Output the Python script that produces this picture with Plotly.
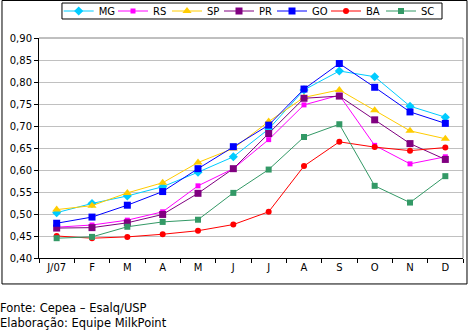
import plotly.graph_objects as go

months = ["J/07", "F", "M", "A", "M", "J", "J", "A", "S", "O", "N", "D"]

MG = [0.503, 0.524, 0.541, 0.562, 0.595, 0.630, 0.693, 0.782, 0.825, 0.812, 0.745, 0.720]
RS = [0.470, 0.475, 0.486, 0.505, 0.564, 0.603, 0.669, 0.748, 0.770, 0.656, 0.614, 0.630]
SP = [0.510, 0.519, 0.548, 0.571, 0.617, 0.649, 0.710, 0.765, 0.782, 0.736, 0.689, 0.671]
PR = [0.468, 0.469, 0.480, 0.499, 0.547, 0.603, 0.683, 0.763, 0.768, 0.714, 0.660, 0.624]
GO = [0.479, 0.493, 0.520, 0.551, 0.603, 0.653, 0.702, 0.784, 0.842, 0.788, 0.732, 0.706]
BA = [0.450, 0.445, 0.448, 0.454, 0.462, 0.476, 0.505, 0.609, 0.664, 0.652, 0.644, 0.651]
SC = [0.445, 0.448, 0.471, 0.482, 0.487, 0.548, 0.601, 0.675, 0.704, 0.564, 0.526, 0.586]

series = [
    ("MG", MG, "#00CCFF", "diamond", 7),
    ("RS", RS, "#FF00FF", "square", 5),
    ("SP", SP, "#FFCC00", "triangle-up", 8),
    ("PR", PR, "#800080", "square", 7),
    ("GO", GO, "#0000FF", "square", 7),
    ("BA", BA, "#FF0000", "circle", 6),
    ("SC", SC, "#339966", "square", 6),
]

footer_lines = ["Fonte: Cepea – Esalq/USP", "Elaboração: Equipe MilkPoint"]

# left edge (px) of each legend entry
legend_left_px = [58.7, 113, 167, 219, 272, 326, 381]
PLOT_L, PLOT_W = 39, 424

xs = list(range(len(months)))
fig = go.Figure()
font = "DejaVu Sans"
legend_layouts = {}
for i, (name, vals, color, sym, size) in enumerate(series):
    key = "legend" if i == 0 else f"legend{i+1}"
    fig.add_trace(go.Scatter(
        x=xs, y=vals, name=name, mode="lines+markers",
        line=dict(color=color, width=1),
        marker=dict(color=color, symbol=sym, size=size),
        legend=key,
    ))
    legend_layouts[key] = dict(
        orientation="h", yanchor="middle", y=1.1227, xanchor="left",
        x=(legend_left_px[i] - PLOT_L) / PLOT_W,
        borderwidth=0, bgcolor="rgba(0,0,0,0)",
        font=dict(family=font, size=10, color="black"),
        itemwidth=30, tracegroupgap=0,
    )

fig.update_layout(
    width=469, height=331,
    margin=dict(l=39, r=6, t=38, b=73, autoexpand=False),
    paper_bgcolor="white", plot_bgcolor="white",
    separators=",.",
    font=dict(family=font, size=10, color="black"),
    showlegend=True,
    **legend_layouts,
    xaxis=dict(
        range=[-0.5, 11.5], tickmode="array", tickvals=xs, ticktext=months,
        ticks="", showgrid=False, zeroline=False,
        showline=True, linecolor="black", linewidth=1,
        minor=dict(tickmode="linear", tick0=-0.5, dtick=1, ticks="outside",
                   ticklen=4, tickcolor="black", showgrid=False),
        tickfont=dict(family=font, size=10),
        fixedrange=True,
    ),
    yaxis=dict(
        range=[0.40, 0.90], dtick=0.05, tick0=0.40, tickformat=".2f",
        ticks="outside", ticklen=4, tickcolor="black",
        showgrid=True, gridcolor="#C0C0C0", gridwidth=1, zeroline=False,
        showline=True, linecolor="black", linewidth=1,
        tickfont=dict(family=font, size=10),
        fixedrange=True,
    ),
    shapes=[
        dict(type="line", xref="paper", yref="paper", x0=0, x1=1, y0=1, y1=1,
             line=dict(color="#808080", width=1)),
        dict(type="line", xref="paper", yref="paper", x0=1, x1=1, y0=0, y1=1,
             line=dict(color="#808080", width=1)),
        dict(type="rect", xref="paper", yref="paper", x0=-0.0873, x1=1.0094,
             y0=-0.118, y1=1.1705, line=dict(color="black", width=1),
             fillcolor="rgba(0,0,0,0)"),
        dict(type="rect", xref="paper", yref="paper", x0=0.0542, x1=0.9505,
             y0=1.0864, y1=1.159, line=dict(color="black", width=1),
             fillcolor="white", layer="below"),
    ],
    annotations=[
        dict(text="<br>".join(footer_lines), xref="paper", yref="paper",
             x=-0.094, y=-0.3318, xanchor="left", yanchor="bottom", align="left",
             showarrow=False, borderpad=0, font=dict(family=font, size=11.5)),
    ],
)

fig.write_html("out.html")
